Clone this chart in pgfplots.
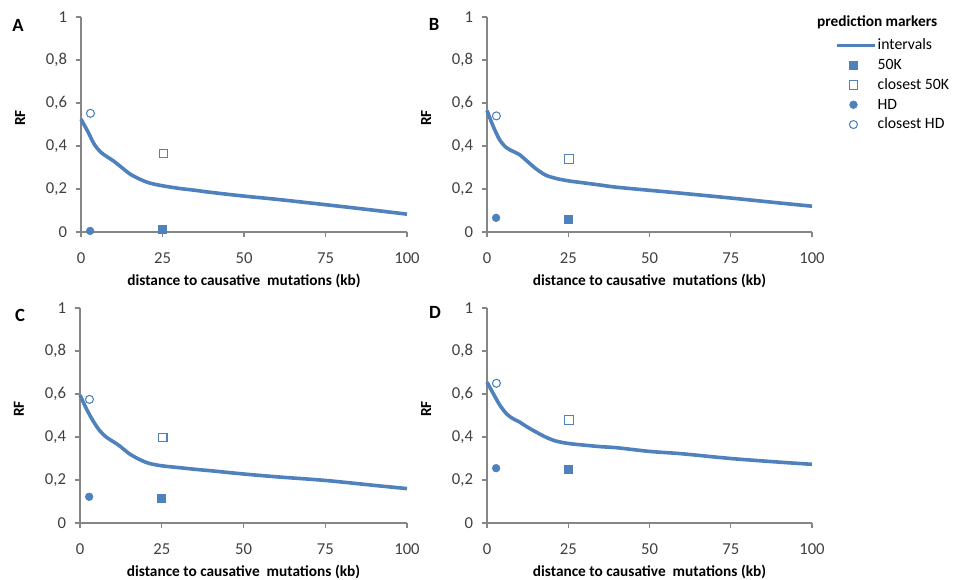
\documentclass[border=0pt]{standalone}
\usepackage{fontspec}
\setmainfont{Carlito}
\usepackage{pgfplots}
\pgfplotsset{compat=1.18}
\definecolor{xlblue}{RGB}{79,129,189}
\definecolor{axgray}{RGB}{134,134,134}
\definecolor{ticktext}{RGB}{64,64,64}

\pgfplotsset{
    panel/.style={
        scale only axis,
        xmin=0, xmax=100, ymin=0, ymax=1,
        axis lines=left,
        axis line style={-, draw=axgray, line width=0.9pt},
        tick style={draw=axgray, line width=0.9pt},
        tick align=outside,
        major tick length=4pt,
        xtick={0,25,50,75,100},
        ytick={0,0.2,0.4,0.6,0.8,1},
        /pgf/number format/.cd, fixed, use comma, assume math mode=true,
        /pgfplots/.cd,
        tick label style={font=\fontsize{12.5}{14}\selectfont, text=ticktext},
        xticklabel style={yshift=-8pt},
        yticklabel style={xshift=-3pt},
        xlabel={distance to causative\ \ mutations (kb)},
        ylabel={RF},
        label style={font=\fontsize{11.5}{13}\selectfont\bfseries},
        xlabel style={at={(axis description cs:0.5,-0.228)}, anchor=center},
        ylabel style={at={(axis description cs:-0.187,0.53)}, anchor=center},
        clip=false,
    },
    curve/.style={xlblue, line width=2.7pt, smooth, tension=0.5},
    m50k/.style={only marks, mark=square*, mark size=3pt, draw=xlblue, fill=xlblue},
    c50k/.style={only marks, mark=square, mark size=3.2pt, mark options={draw=xlblue, line width=0.8pt}},
    mhd/.style={only marks, mark=*, mark size=2.9pt, draw=xlblue, fill=xlblue},
    chd/.style={only marks, mark=o, mark size=3pt, mark options={draw=xlblue, line width=0.8pt}},
    legend image code/.code={\draw[mark repeat=2, mark phase=2, #1] plot coordinates {(0pt,0pt) (12pt,0pt) (28pt,0pt)};},
}

\begin{document}
\begin{tikzpicture}
\path[use as bounding box] (0,0) rectangle (715.5pt,434.25pt);

% A
\begin{axis}[panel, at={(60.75pt,260.25pt)}, anchor=south west, width=244.5pt, height=161.25pt]
\addplot[curve] coordinates {
    (0,0.525) (2,0.47) (4,0.41) (6,0.372) (8,0.35) (10,0.33) (12,0.306) (15,0.27)
    (18,0.246) (21,0.228) (25,0.215) (30,0.203) (35,0.194) (40,0.184) (50,0.167)
    (60,0.152) (75,0.127) (90,0.101) (100,0.083)
};
\addplot[m50k] coordinates {(25,0.014)};
\addplot[c50k] coordinates {(25.3,0.365)};
\addplot[mhd] coordinates {(2.8,0.005)};
\addplot[chd] coordinates {(2.9,0.552)};
\node[font=\fontsize{14}{16}\selectfont\bfseries] at (axis description cs:-0.193,0.963) {A};
\end{axis}

% B
\begin{axis}[panel, at={(365.25pt,260.25pt)}, anchor=south west, width=243.75pt, height=161.25pt,
    legend cell align=left,
    legend style={at={(axis description cs:1.072,0.905)}, anchor=north west, draw=none, fill=none,
        font=\fontsize{11.8}{14}\selectfont, row sep=3.35pt, inner sep=0pt,
        nodes={inner xsep=0.8pt, inner ysep=0pt, text height=9pt, text depth=2.5pt}}]
\addplot[curve] coordinates {
    (0,0.565) (2,0.488) (4,0.426) (6,0.392) (8,0.375) (10,0.36) (12,0.334) (15,0.295)
    (18,0.265) (21,0.25) (25,0.238) (30,0.228) (35,0.218) (40,0.208) (50,0.194)
    (60,0.18) (75,0.158) (90,0.135) (100,0.12)
};
\addlegendentry{intervals}
\addplot[m50k] coordinates {(25,0.06)};
\addlegendentry{50K}
\addplot[c50k] coordinates {(25.3,0.34)};
\addlegendentry{closest 50K}
\addplot[mhd] coordinates {(2.8,0.066)};
\addlegendentry{HD}
\addplot[chd] coordinates {(2.9,0.54)};
\addlegendentry{closest HD}
\node[font=\fontsize{14}{16}\selectfont\bfseries] at (axis description cs:-0.163,0.967) {B};
\node[font=\fontsize{11.5}{13}\selectfont\bfseries, anchor=west, inner sep=0pt] at (axis description cs:1.015,0.977) {prediction markers};
\end{axis}

% C
\begin{axis}[panel, at={(60pt,42pt)}, anchor=south west, width=245.25pt, height=161.25pt]
\addplot[curve] coordinates {
    (0,0.595) (2,0.53) (4,0.475) (6,0.43) (8,0.40) (10,0.38) (12,0.36) (15,0.323)
    (18,0.297) (21,0.278) (25,0.266) (30,0.258) (35,0.25) (40,0.243) (50,0.228)
    (60,0.215) (75,0.198) (90,0.175) (100,0.16)
};
\addplot[m50k] coordinates {(25,0.116)};
\addplot[c50k] coordinates {(25.3,0.397)};
\addplot[mhd] coordinates {(2.8,0.122)};
\addplot[chd] coordinates {(2.9,0.575)};
\node[font=\fontsize{14}{16}\selectfont\bfseries] at (axis description cs:-0.183,0.967) {C};
\end{axis}

% D
\begin{axis}[panel, at={(365.25pt,42pt)}, anchor=south west, width=243.75pt, height=161.25pt]
\addplot[curve] coordinates {
    (0,0.655) (2,0.60) (4,0.547) (6,0.508) (8,0.485) (10,0.47) (12,0.45) (15,0.424)
    (18,0.40) (21,0.382) (25,0.37) (30,0.362) (35,0.355) (40,0.35) (50,0.333)
    (60,0.322) (75,0.30) (90,0.283) (100,0.273)
};
\addplot[m50k] coordinates {(25,0.25)};
\addplot[c50k] coordinates {(25.3,0.478)};
\addplot[mhd] coordinates {(2.8,0.255)};
\addplot[chd] coordinates {(2.9,0.65)};
\node[font=\fontsize{14}{16}\selectfont\bfseries] at (axis description cs:-0.16,0.977) {D};
\end{axis}
\end{tikzpicture}
\end{document}
